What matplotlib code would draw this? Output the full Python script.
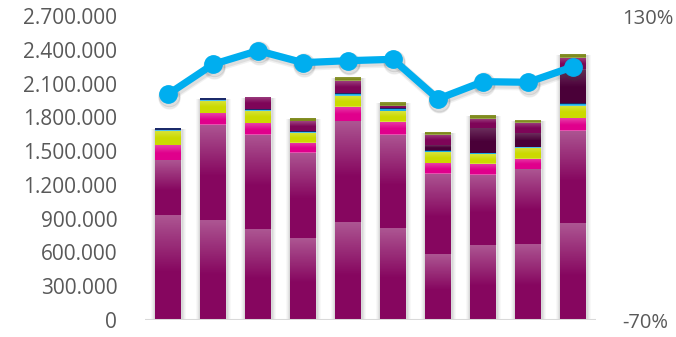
import numpy as np
import matplotlib
matplotlib.use("Agg")
import matplotlib.pyplot as plt
from matplotlib.ticker import FuncFormatter

# ---------------- data ----------------
categories = ["P1", "P2", "P3", "P4", "P5", "P6", "P7", "P8", "P9", "P10"]
seg_base     = [924000, 888000, 808000, 728000, 862000, 817000, 586000, 666000, 675000, 853000]
seg_second   = [497000, 844000, 835000, 755000, 905000, 826000, 711000, 622000, 666000, 826000]
seg_pink     = [133000, 104000, 104000, 89000, 125000, 116000, 97000, 98000, 89000, 115000]
seg_yellow   = [127000, 109000, 109000, 89000, 100000, 97000, 96000, 88000, 98000, 109000]
seg_cyan     = [8000, 13000, 10000, 11000, 12000, 18000, 12000, 9000, 9000, 11000]
seg_navy     = [16000, 14000, 5000, 9000, 8000, 10000, 9000, 0, 0, 11000]
seg_eggplant = [0, 0, 0, 0, 0, 0, 43000, 222000, 124000, 295000]
seg_purple   = [0, 0, 110000, 86000, 111000, 19000, 89000, 80000, 89000, 107000]
seg_olive    = [0, 0, 0, 27000, 35000, 33000, 27000, 36000, 26000, 36000]
line_pct     = [0.785, 0.982, 1.072, 0.993, 1.006, 1.015, 0.754, 0.868, 0.864, 0.966]

left_ticks = [0, 300000, 600000, 900000, 1200000, 1500000, 1800000, 2100000, 2400000, 2700000]
right_ticks = [-0.7, 1.3]

segments = [
    (seg_base, "#86065F", 0.32),
    (seg_second, "#86065F", 0.32),
    (seg_pink, "#E0008C", 0.25),
    (seg_yellow, "#CBDA00", 0.25),
    (seg_cyan, "#1BAEE6", 0.0),
    (seg_navy, "#1B2A6A", 0.0),
    (seg_eggplant, "#4A0038", 0.18),
    (seg_purple, "#7E0558", 0.25),
    (seg_olive, "#7E8A1C", 0.15),
]

plt.rcParams["font.family"] = ["Open Sans", "DejaVu Sans"]
fig = plt.figure(figsize=(6.76, 3.37), dpi=100)
ax = fig.add_axes([145 / 676, 17 / 337, 451 / 676, 304 / 337])

x = np.arange(len(categories))
width = 0.59

# soft shadows beside bars
totals = np.zeros(len(categories))
for vals, _, _ in segments:
    totals = totals + np.array(vals)
for k, a in [(0.20, 0.04), (0.15, 0.05), (0.10, 0.07), (0.05, 0.09)]:
    ax.bar(x + 0.01, totals - 8000, width=width + k, color="#606060", alpha=a,
           zorder=1, linewidth=0)

bottom = np.zeros(len(categories))
grad_patches = []
for vals, color, glow in segments:
    vals = np.array(vals, dtype=float)
    bars = ax.bar(x, vals, width=width, bottom=bottom, color=color, zorder=2,
                  linewidth=0)
    if glow > 0:
        for p in bars:
            if p.get_height() > 0:
                grad_patches.append((p, glow))
    bottom = bottom + vals

# gradient overlays (lighter at the top of each segment)
n = 64
for p, glow in grad_patches:
    x0, y0, w, h = p.get_x(), p.get_y(), p.get_width(), p.get_height()
    t = np.linspace(0, 1, n)  # 0 bottom, 1 top
    alpha = glow * np.clip((t - 0.45) / 0.55, 0, 1)
    img = np.zeros((n, 1, 4))
    img[:, 0, :3] = 1.0
    img[:, 0, 3] = alpha
    ax.imshow(img, extent=(x0, x0 + w, y0, y0 + h), origin="lower",
              aspect="auto", zorder=3, interpolation="bilinear")

ax.set_xlim(-0.51, 9.51)
ax.set_ylim(0, 2700000)
ax.set_yticks(left_ticks)
ax.yaxis.set_major_formatter(FuncFormatter(lambda v, p: f"{int(v):,}".replace(",", ".")))
ax.tick_params(axis="y", length=0, pad=20, labelsize=15, labelcolor="#595959")
ax.set_xticks([])
for s in ax.spines.values():
    s.set_visible(False)
ax.axhline(0, color="#D9D9D9", linewidth=2.2, zorder=4)

# line on secondary axis
ax2 = ax.twinx()
ax2.set_ylim(-0.7, 1.3)
ax2.set_yticks(right_ticks)
ax2.yaxis.set_major_formatter(FuncFormatter(lambda v, p: f"{v*100:.0f}%"))
ax2.tick_params(axis="y", length=0, pad=19, labelsize=14.5, labelcolor="#595959")
for s in ax2.spines.values():
    s.set_visible(False)
ax2.set_xlim(-0.51, 9.51)

# shadow of the line
for off, a in [(0.012, 0.10), (0.022, 0.07)]:
    ax2.plot(x + 0.03, np.array(line_pct) - off, color="#404040", alpha=a,
             linewidth=7, marker="o", markersize=15, zorder=1,
             solid_capstyle="round")
ax2.plot(x, line_pct, color="#00AEEF", linewidth=5.2, marker="o",
         markersize=12.5, zorder=5)

fig.savefig("out.png", dpi=100)
